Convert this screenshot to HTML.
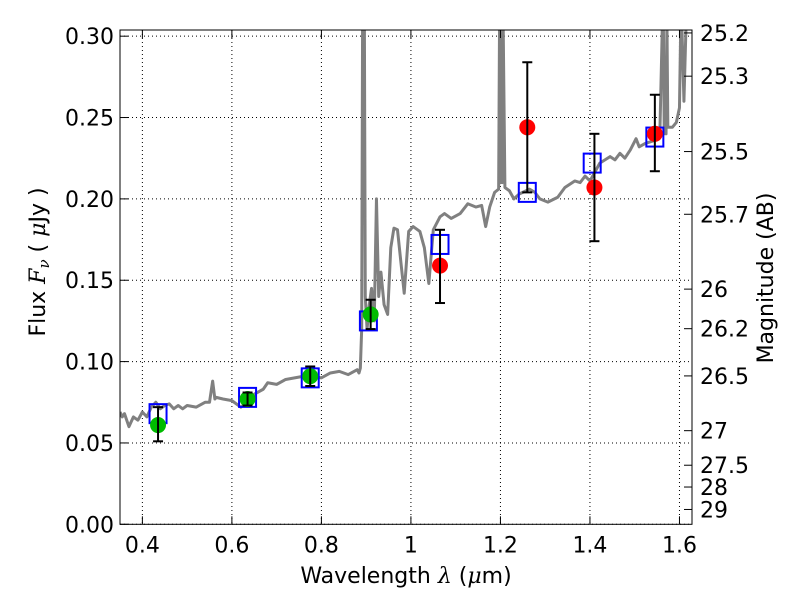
<!DOCTYPE html>
<html><head><meta charset="utf-8"><style>
body{margin:0;background:#fff;}
svg{display:block;font-family:"DejaVu Sans","Liberation Sans",sans-serif;}
</style></head><body>
<svg id="c" width="800" height="600"></svg>
<script>
const specLam=[0.35,0.355,0.36,0.37,0.375,0.38,0.39,0.40,0.41,0.42,0.43,0.44,0.45,0.46,0.47,0.48,0.49,0.50,0.52,0.54,0.55,0.557,0.562,0.565,0.58,0.60,0.62,0.63,0.65,0.67,0.68,0.70,0.72,0.74,0.76,0.78,0.80,0.82,0.84,0.86,0.88,0.884,0.887,0.890,0.892,0.894,0.896,0.898,0.902,0.907,0.912,0.918,0.923,0.928,0.933,0.94,0.948,0.955,0.962,0.97,0.978,0.985,0.995,1.005,1.02,1.03,1.04,1.05,1.065,1.075,1.09,1.11,1.127,1.145,1.158,1.167,1.176,1.187,1.196,1.198,1.200,1.202,1.204,1.206,1.21,1.22,1.23,1.242,1.265,1.277,1.288,1.306,1.328,1.344,1.366,1.378,1.389,1.40,1.422,1.445,1.456,1.467,1.478,1.49,1.503,1.51,1.523,1.545,1.556,1.562,1.564,1.566,1.570,1.572,1.574,1.584,1.593,1.60,1.603,1.605,1.61,1.615,1.62,1.628];
const specFlux=[0.069,0.066,0.068,0.060,0.063,0.066,0.064,0.069,0.066,0.072,0.075,0.071,0.073,0.074,0.071,0.073,0.071,0.073,0.072,0.075,0.075,0.088,0.077,0.078,0.077,0.076,0.072,0.074,0.080,0.083,0.087,0.086,0.089,0.090,0.091,0.091,0.090,0.093,0.094,0.092,0.095,0.093,0.096,0.12,0.31,0.31,0.31,0.14,0.12,0.135,0.145,0.125,0.20,0.14,0.155,0.135,0.129,0.170,0.182,0.181,0.160,0.142,0.180,0.183,0.180,0.170,0.148,0.181,0.189,0.191,0.188,0.191,0.197,0.195,0.196,0.183,0.195,0.204,0.206,0.31,0.21,0.31,0.21,0.31,0.207,0.205,0.200,0.203,0.206,0.204,0.200,0.198,0.201,0.207,0.211,0.210,0.214,0.211,0.222,0.226,0.224,0.228,0.225,0.230,0.237,0.232,0.234,0.236,0.238,0.31,0.31,0.24,0.24,0.31,0.244,0.244,0.247,0.256,0.31,0.31,0.26,0.31,0.31,0.31];
const greenLam=[0.435,0.635,0.775,0.91];
const greenFlux=[0.061,0.077,0.091,0.129];
const greenLo=[0.051,0.073,0.085,0.120];
const greenHi=[0.072,0.081,0.097,0.138];
const redLam=[1.065,1.26,1.41,1.545];
const redFlux=[0.159,0.244,0.207,0.240];
const redLo=[0.136,0.204,0.174,0.217];
const redHi=[0.181,0.284,0.240,0.264];
const modelLam=[0.435,0.635,0.775,0.905,1.065,1.26,1.405,1.545];
const modelFlux=[0.068,0.078,0.090,0.125,0.172,0.204,0.222,0.238];
const xTicks=[0.4,0.6,0.8,1.0,1.2,1.4,1.6];
const xTickLabels=["0.4","0.6","0.8","1","1.2","1.4","1.6"];
const yTicks=[0,0.05,0.10,0.15,0.20,0.25,0.30];
const yTickLabels=["0.00","0.05","0.10","0.15","0.20","0.25","0.30"];
const magTicks=[25.2,25.3,25.5,25.7,26,26.2,26.5,27,27.5,28,29];

const L=120,R=692,T=30,B=524.3,X0=0.35,X1=1.628,Y0=0,Y1=0.3038;
const sx=v=>L+(v-X0)/(X1-X0)*(R-L);
const sy=v=>B-(v-Y0)/(Y1-Y0)*(B-T);
const NS="http://www.w3.org/2000/svg";
const svg=document.getElementById('c');
function mk(tag,attrs,parent){const e=document.createElementNS(NS,tag);for(const k in attrs)e.setAttribute(k,attrs[k]);(parent||svg).appendChild(e);return e;}
const defs=mk('defs',{});const cp=mk('clipPath',{id:'clip'},defs);mk('rect',{x:L,y:T,width:R-L,height:B-T},cp);

xTicks.forEach(v=>{const g=mk('line',{x1:sx(v),x2:sx(v),y1:T,y2:B,stroke:'#000','stroke-width':1,'stroke-dasharray':'1,3'});

});
yTicks.forEach(v=>{const g=mk('line',{x1:L,x2:R,y1:sy(v),y2:sy(v),stroke:'#000','stroke-width':1,'stroke-dasharray':'1,3'});

});

const cg=mk('g',{'clip-path':'url(#clip)'});
const sp=mk('polyline',{points:specLam.map((l,i)=>sx(l)+','+sy(specFlux[i])).join(' '),fill:'none',stroke:'#808080','stroke-width':3,'stroke-linejoin':'round'},cg);



modelLam.forEach((l,i)=>{const r=mk('rect',{x:sx(l)-8.5,y:sy(modelFlux[i])-9.5,width:17,height:19,fill:'none',stroke:'#0000ff','stroke-width':2},cg);

});

function pts(lams,fl,lo,hi,col,name){
 lams.forEach((l,i)=>{const x=sx(l);
  const c=mk('circle',{cx:x,cy:sy(fl[i]),r:8,fill:col},cg);
  
  
  const e=mk('g',{stroke:'#000','stroke-width':2},cg);
  
  
  mk('line',{x1:x,x2:x,y1:sy(lo[i]),y2:sy(hi[i])},e);
  mk('line',{x1:x-5,x2:x+5,y1:sy(lo[i]),y2:sy(lo[i])},e);
  mk('line',{x1:x-5,x2:x+5,y1:sy(hi[i]),y2:sy(hi[i])},e);
 });
}
pts(greenLam,greenFlux,greenLo,greenHi,'#00bb00','optical-detection');
pts(redLam,redFlux,redLo,redHi,'#ff0000','nir-detection');

const fr=mk('rect',{x:L,y:T,width:R-L,height:B-T,fill:'none',stroke:'#000','stroke-width':1});



xTicks.forEach((v,i)=>{const x=sx(v);mk('line',{x1:x,x2:x,y1:B,y2:B-8,stroke:'#000'});mk('line',{x1:x,x2:x,y1:T,y2:T+8,stroke:'#000'});
 const t=mk('text',{x:x,y:B+28,'font-size':22,'text-anchor':'middle'});t.textContent=xTickLabels[i];
 
 });
yTicks.forEach((v,i)=>{const y=sy(v);mk('line',{x1:L,x2:L+8,y1:y,y2:y,stroke:'#000'});
 const t=mk('text',{x:L-6,y:y+8,'font-size':22,'text-anchor':'end'});t.textContent=yTickLabels[i];
 
 });
magTicks.forEach(m=>{const y=sy(Math.pow(10,(23.9-m)/2.5));mk('line',{x1:R-8,x2:R,y1:y,y2:y,stroke:'#000'});
 const t=mk('text',{x:R+8,y:y+8,'font-size':22});t.textContent=String(m);
 
 });
</script>
<svg width="800" height="600" style="position:absolute;left:0;top:0;font-family:'DejaVu Sans','Liberation Sans',sans-serif;">
<text x="406" y="583" font-size="22" text-anchor="middle">Wavelength  <tspan font-family="'DejaVu Serif',serif" font-style="italic">λ</tspan> (<tspan font-family="'DejaVu Serif',serif" font-style="italic">μ</tspan>m)</text>
<text transform="translate(45,262) rotate(-90)" font-size="22" text-anchor="middle">Flux  <tspan font-family="'DejaVu Serif',serif" font-style="italic">F<tspan font-size="15" dy="4">ν</tspan></tspan><tspan dy="-4">  (  </tspan><tspan font-family="'DejaVu Serif',serif" font-style="italic">μ</tspan>Jy )</text>
<text transform="translate(773,278) rotate(-90)" font-size="22" text-anchor="middle">Magnitude (AB)</text>
</svg>
</body></html>
